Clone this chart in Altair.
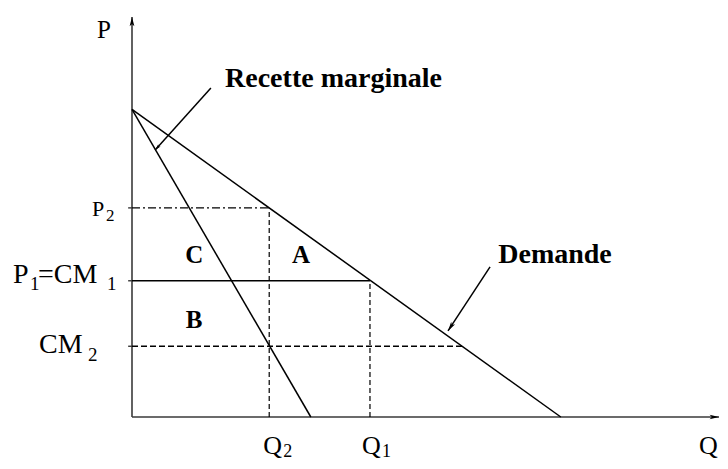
import altair as alt
import pandas as pd

# ---- data (Q = quantity, P = price) ----
demand_Q = [0.0, 100.0]
demand_P = [100.0, 0.0]
rm_Q = [0.0, 41.7]
rm_P = [100.0, 0.0]

P2 = 68.0
P1 = 44.3
CM2 = 23.0
Q2 = 32.0
Q1 = 55.5
Q_cm2_end = 77.0

Q_axis_max = 136.9
P_axis_max = 130.1

# annotation anchors (data units)
area_letters = ["C", "A", "B"]
area_Q = [14.5, 39.4, 14.5]
area_P = [50.1, 50.1, 28.9]

rm_text_Q, rm_text_P = 21.7, 107.3
dem_text_Q, dem_text_P = 98.65, 50.1
rm_arrow = [18.4, 107.0, 5.4, 86.8]
dem_arrow = [83.5, 48.8, 73.7, 28.0]

FONT = "Liberation Serif"

xs = alt.Scale(domain=[0, 137.13], nice=False, zero=False)
ys = alt.Scale(domain=[0, 133], nice=False, zero=False)


def enc_xy():
    return dict(
        x=alt.X("x:Q", scale=xs, axis=None),
        y=alt.Y("y:Q", scale=ys, axis=None),
    )


segments = pd.DataFrame(
    [
        # kind, x, y, x2, y2
        ("axis", 0, 0, Q_axis_max, 0),
        ("axis", 0, 0, 0, P_axis_max),
        ("solid", demand_Q[0], demand_P[0], demand_Q[1], demand_P[1]),
        ("solid", rm_Q[0], rm_P[0], rm_Q[1], rm_P[1]),
        ("solid", 0, P1, Q1, P1),
        ("dashdot", 0, P2, Q2, P2),
        ("dashv", Q2, 0, Q2, P2),
        ("dashv", Q1, 0, Q1, P1),
        ("dashh", 0, CM2, Q_cm2_end, CM2),
        ("pointer", rm_arrow[0], rm_arrow[1], rm_arrow[2], rm_arrow[3]),
        ("pointer", dem_arrow[0], dem_arrow[1], dem_arrow[2], dem_arrow[3]),
        ("tick", -0.9, P2, 0, P2),
        ("tick", -0.9, P1, 0, P1),
        ("tick", -0.9, CM2, 0, CM2),
    ],
    columns=["kind", "x", "y", "x2", "y2"],
)

base = alt.Chart(segments)


def rules(kind, **mark):
    return (
        base.transform_filter(alt.datum.kind == kind)
        .mark_rule(**mark)
        .encode(**enc_xy(), x2="x2:Q", y2="y2:Q")
    )


layers = [
    rules("axis", color="#3a3a3a", strokeWidth=1.6),
    rules("tick", color="#3a3a3a", strokeWidth=1.4),
    rules("solid", color="black", strokeWidth=1.5),
    rules("dashdot", color="black", strokeWidth=1.4, strokeDash=[8, 3, 2, 3]),
    rules("dashv", color="black", strokeWidth=1.2, strokeDash=[5, 3]),
    rules("dashh", color="black", strokeWidth=1.6, strokeDash=[6, 3]),
    rules("pointer", color="black", strokeWidth=1.5),
]

# arrow heads (tip at the symbol origin, pointing up when angle = 0)
ARROW = "M0,0L0.45,1.8L0,1.35L-0.45,1.8Z"
heads = pd.DataFrame(
    {
        "x": [0, Q_axis_max, rm_arrow[2], dem_arrow[2]],
        "y": [P_axis_max, 0, rm_arrow[3], dem_arrow[3]],
        "ang": [0, 90, 222, 213],
        "sz": [110, 110, 50, 110],
    }
)
layers.append(
    alt.Chart(heads)
    .mark_point(shape=ARROW, filled=True, color="black", opacity=1, strokeWidth=0)
    .encode(
        **enc_xy(),
        angle=alt.Angle("ang:Q", scale=None),
        size=alt.Size("sz:Q", scale=None, legend=None),
    )
)


def label(xv, yv, text, dx=0, dy=0, size=26, bold=False, align="left"):
    return (
        alt.Chart(pd.DataFrame({"x": [xv], "y": [yv], "t": [text]}))
        .mark_text(
            dx=dx,
            dy=dy,
            fontSize=size,
            font=FONT,
            fontWeight="bold" if bold else "normal",
            align=align,
            baseline="alphabetic",
            color="black",
        )
        .encode(**enc_xy(), text="t:N")
    )


# axis titles
layers.append(label(0, P_axis_max, "P", dx=-28, dy=21, size=25, align="center"))
layers.append(label(Q_axis_max, 0, "Q", dx=-20, dy=37, size=26))

# price-axis labels
layers += [
    label(0, P2, "P", dx=-40, dy=8, size=22),
    label(0, P2, "2", dx=-26, dy=13, size=17),
    label(0, P1, "P", dx=-119, dy=2, size=28),
    label(0, P1, "1", dx=-102, dy=9, size=19),
    label(0, P1, "=CM", dx=-94, dy=2, size=28),
    label(0, P1, "1", dx=-25, dy=9, size=19),
    label(0, CM2, "CM", dx=-93, dy=7, size=28),
    label(0, CM2, "2", dx=-44, dy=15, size=19),
]

# quantity-axis labels
layers += [
    label(Q2, 0, "Q", dx=-6, dy=37, size=26),
    label(Q2, 0, "2", dx=14, dy=40, size=18),
    label(Q1, 0, "Q", dx=-8, dy=37, size=26),
    label(Q1, 0, "1", dx=12, dy=40, size=18),
]

# area letters
for t, q, p in zip(area_letters, area_Q, area_P):
    layers.append(label(q, p, t, size=25, bold=True, align="center"))

# curve names
layers.append(label(rm_text_Q, rm_text_P, "Recette marginale", size=28, bold=True))
layers.append(label(dem_text_Q, dem_text_P, "Demande", size=28, bold=True, align="center"))

chart = (
    alt.layer(*layers)
    .properties(
        width=588,
        height=409,
        padding={"left": 124, "top": 0, "right": 0, "bottom": 44},
        autosize=alt.AutoSizeParams(type="none"),
        background="white",
    )
    .configure_view(stroke=None)
)

chart.save("out.html", embed_options={"renderer": "svg", "actions": False})
